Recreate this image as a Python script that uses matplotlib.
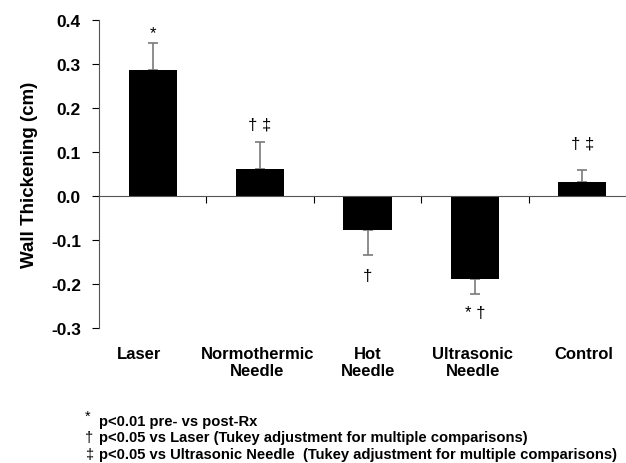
import numpy as np
import matplotlib.pyplot as plt

plt.rcParams['font.family'] = ['Liberation Sans', 'DejaVu Sans']

categories = ["Laser", "Normothermic\nNeedle", "Hot\nNeedle", "Ultrasonic\nNeedle", "Control"]
means = [0.286, 0.061, -0.077, -0.189, 0.032]
errors = [0.062, 0.062, 0.057, 0.034, 0.027]
marks = ["*", "\u2020 \u2021", "\u2020", "* \u2020", "\u2020 \u2021"]
mark_y = [0.372, 0.163, -0.18, -0.265, 0.120]
yticks = [-0.3, -0.2, -0.1, 0.0, 0.1, 0.2, 0.3, 0.4]
notes = ["p<0.01 pre- vs post-Rx",
         "p<0.05 vs Laser (Tukey adjustment for multiple comparisons)",
         "p<0.05 vs Ultrasonic Needle  (Tukey adjustment for multiple comparisons)"]
note_syms = ["*", "\u2020", "\u2021"]

# category labels are not quite centred under the bars in the original
label_shift = [-0.128, -0.024, 0.005, -0.018, 0.016]

fig = plt.figure(figsize=(6.26, 4.64), dpi=100)
ax = fig.add_axes([99/626, 1 - 329/464, 537/626, 308/464])

x = np.arange(len(categories))
ax.bar(x, means, width=0.45, color='black', zorder=2)

# one-sided error bars in the direction of each bar
for xi, m, e in zip(x, means, errors):
    yerr = [[0], [e]] if m >= 0 else [[e], [0]]
    ax.errorbar(xi, m, yerr=yerr, fmt='none', ecolor='#7a7a7a', elinewidth=1.2,
                capsize=3.5, capthick=1.2, zorder=1)

for xi, t, y in zip(x, marks, mark_y):
    ax.text(xi, y, t, ha='center', va='center', fontsize=12)

ax.set_xlim(-0.5, 4.5)
ax.set_ylim(-0.3, 0.4)
ax.set_yticks(yticks)
ax.set_yticklabels(["%.1f" % v for v in yticks], fontsize=12.5, fontweight='bold')
ax.set_xticks([0.5, 1.5, 2.5, 3.5])
ax.set_xticklabels([])
ax.tick_params(axis='y', direction='out', length=5, width=0.8, pad=8)
ax.tick_params(axis='x', direction='out', length=5, width=0.8)

ax.spines['top'].set_visible(False)
ax.spines['right'].set_visible(False)
ax.spines['bottom'].set_position(('data', 0))
ax.spines['left'].set_color('#555555')
ax.spines['bottom'].set_color('#555555')

for xi, c, s in zip(x, categories, label_shift):
    ax.text(xi + s, -0.342, c, ha='center', va='top', fontsize=12, fontweight='bold',
            linespacing=1.1)

ax.set_ylabel("Wall Thickening (cm)", fontsize=13.5, fontweight='bold', labelpad=9)

for i, (s, n) in enumerate(zip(note_syms, notes)):
    yy = 1 - (426 + 16.5 * i) / 464
    fig.text(85/626, yy + (0.012 if s == "*" else 0), s, ha='left', va='baseline', fontsize=10.5)
    fig.text(99/626, yy, n, ha='left', va='baseline', fontsize=10.6, fontweight='bold')

fig.savefig('out.png', dpi=100)
